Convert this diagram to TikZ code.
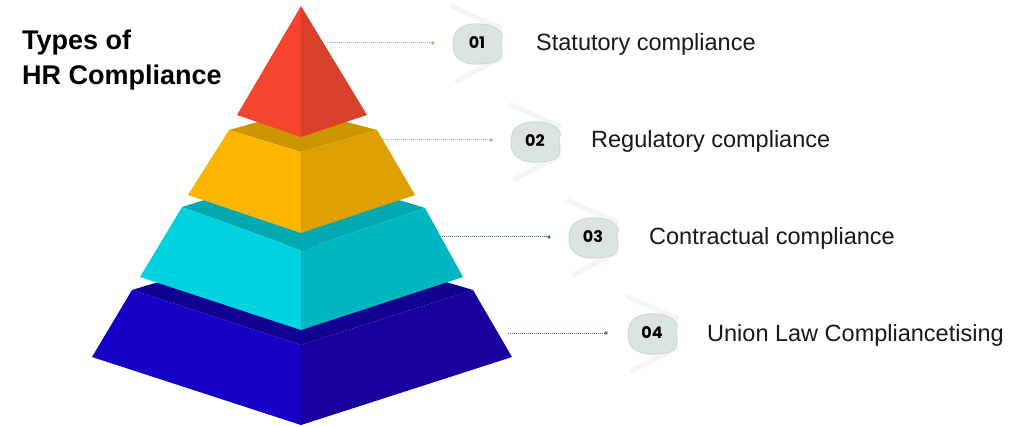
\documentclass[tikz,border=0pt]{standalone}
\usepackage{fontspec}
\setmainfont{Liberation Sans}
\newfontfamily\badgefont{Poppins}[BoldFont={Poppins Bold}]
\usetikzlibrary{calc}
\definecolor{redL}{HTML}{F5452F}
\definecolor{redR}{HTML}{D8412C}
\definecolor{yelL}{HTML}{FDB600}
\definecolor{yelR}{HTML}{DDA000}
\definecolor{yelT}{HTML}{CC9600}
\definecolor{cyaL}{HTML}{00D3DF}
\definecolor{cyaR}{HTML}{00B6C1}
\definecolor{cyaT}{HTML}{00A8B2}
\definecolor{bluL}{HTML}{1500C6}
\definecolor{bluR}{HTML}{17009E}
\definecolor{bluT}{HTML}{110090}
\definecolor{dotorange}{HTML}{F09A68}
\definecolor{dotslate}{HTML}{4F6B6A}
\definecolor{blobfill}{HTML}{DCE4E1}
\definecolor{blobedge}{HTML}{CBD5D2}
\tikzset{
  conn/.style={densely dotted, line width=1pt},
  enddot/.style={circle, fill, inner sep=0pt, minimum size=3.6pt},
  badgetext/.style={font=\badgefont\bfseries\fontsize{16}{18}\selectfont, text=black, inner sep=0pt},
  label/.style={font=\fontsize{23.5}{28}\selectfont, text=black!90, anchor=base west, inner sep=0pt},
  titletext/.style={font=\bfseries\fontsize{27}{35}\selectfont, anchor=base west, inner sep=0pt},
  cardshade/.style={black!4, line width=5pt, line cap=round}
}
\newcommand{\badgeshape}[2]{%
  \begin{scope}[shift={(#1,#2)}]
    \draw[cardshade] (-24,-36) -- (24,-15);
    \draw[cardshade] (24,15) -- (-20,38);
    \fill[blobfill, draw=blobedge, line width=0.8pt] plot[smooth cycle, tension=0.6] coordinates {(-24,2) (-21,-11) (-10,-18) (5,-19) (17,-16) (25,-9) (24,0) (25,10) (20,18) (5,21) (-10,20) (-21,13)};
  \end{scope}}
\begin{document}
\begin{tikzpicture}[x=1pt,y=-1pt]
\useasboundingbox (0,0) rectangle (1024,427);
\fill[white] (0,0) rectangle (1024,427);

% ---- blue layer
\fill[bluT] (132,290) -- (301,239) -- (473,290) -- (301,345) -- cycle;
\fill[bluL] (132,290) -- (301,345) -- (301,425) -- (92,357) -- cycle;
\fill[bluR] (301,345) -- (473,290) -- (512,357) -- (301,425) -- cycle;
% ---- cyan layer
\fill[cyaT] (182,207) -- (301,170) -- (425,208) -- (301,250) -- cycle;
\fill[cyaL] (182,207) -- (301,250) -- (301,330) -- (140,277) -- cycle;
\fill[cyaR] (301,250) -- (425,208) -- (463,277) -- (301,330) -- cycle;
% ---- yellow layer
\fill[yelT] (229,130) -- (301,110) -- (377,130) -- (301,152) -- cycle;
\fill[yelL] (229,130) -- (301,152) -- (301,233) -- (188,195) -- cycle;
\fill[yelR] (301,152) -- (377,130) -- (415,195) -- (301,233) -- cycle;
% ---- red layer
\fill[redL] (301,6) -- (237,115) -- (301,137) -- cycle;
\fill[redR] (301,6) -- (301,137) -- (367,115) -- cycle;

% ---- title
\node[titletext] (t1) at (22,50) {Types of};
\node[titletext] (t2) at (22,85) {HR Compliance};

% ---- badges
\badgeshape{477}{43}
\badgeshape{535}{141}
\badgeshape{593}{237}
\badgeshape{652}{333}
\node[badgetext] (b1) at (477,43) {01};
\node[badgetext] (b2) at (535,141) {02};
\node[badgetext] (b3) at (593,237) {03};
\node[badgetext] (b4) at (652,333) {04};

% ---- connectors
\coordinate (s1) at (327,43);  \coordinate (d1) at (433,43);
\coordinate (s2) at (383,140); \coordinate (d2) at (491,140);
\coordinate (s3) at (442,237); \coordinate (d3) at (549,237);
\coordinate (s4) at (508,333); \coordinate (d4) at (606,333);
\draw[conn, dotorange] (s1) -- (d1); \node[enddot, dotorange] (e1) at (d1) {};
\draw[conn, dotorange] (s2) -- (d2); \node[enddot, dotorange] (e2) at (d2) {};
\draw[conn, dotslate] (s3) -- (d3);  \node[enddot, dotslate] (e3) at (d3) {};
\draw[conn, dotslate] (s4) -- (d4);  \node[enddot, dotslate] (e4) at (d4) {};

% ---- labels
\node[label] (l1) at (536,51) {Statutory compliance};
\node[label] (l2) at (591,148) {Regulatory compliance};
\node[label] (l3) at (649,245) {Contractual compliance};
\node[label] (l4) at (707,341) {Union Law Compliancetising};
\end{tikzpicture}
\end{document}
